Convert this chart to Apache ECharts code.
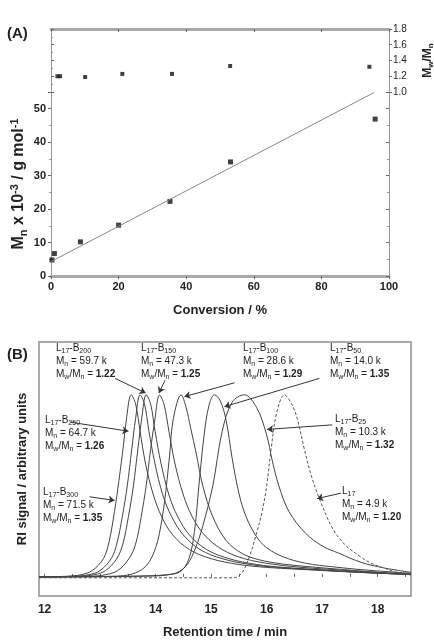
<!DOCTYPE html>
<html>
<head>
<meta charset="utf-8">
<script src="https://cdn.jsdelivr.net/npm/echarts@6/dist/echarts.min.js"></script>
<style>
html, body { margin: 0; padding: 0; background: #fff; }
#main { width: 434px; height: 642px; }
</style>
</head>
<body>
<div id="main"></div>
<script>
// panel A data
var conversion = [0.3, 1.0, 8.7, 20.0, 35.2, 53.1, 95.9];
var mnK = [4.8, 6.7, 10.2, 15.2, 22.3, 34.1, 46.9];
var dispConversion = [1.9, 2.7, 10.1, 21.1, 35.8, 53.0, 94.2];
var dispersity = [1.20, 1.20, 1.19, 1.23, 1.23, 1.33, 1.32];
var fitConversion = [0, 95.5];
var fitMn = [4.3, 54.8];

// panel B: RI traces [retention time, signal]
var curveB300 = [[11.9,0],[12.36,0.003],[12.66,0.012],[12.86,0.035],[13.06,0.1],[13.16,0.19],[13.26,0.36],[13.34,0.53],[13.42,0.72],[13.48,0.88],[13.56,1.0],[13.64,0.95],[13.72,0.8],[13.82,0.62],[13.96,0.45],[14.11,0.33],[14.31,0.23],[14.61,0.15],[15.0,0.1],[15.5,0.068],[16.0,0.052],[16.5,0.043],[17.0,0.035],[17.5,0.027],[18.0,0.02],[18.6,0.013]];
var curveB250 = [[11.9,0],[12.5,0.003],[12.8,0.012],[13.0,0.035],[13.2,0.1],[13.3,0.18],[13.4,0.33],[13.49,0.5],[13.57,0.7],[13.64,0.87],[13.72,1.0],[13.8,0.95],[13.88,0.8],[13.99,0.62],[14.13,0.45],[14.29,0.33],[14.5,0.23],[14.8,0.15],[15.2,0.1],[15.7,0.068],[16.2,0.052],[16.7,0.042],[17.2,0.033],[17.7,0.025],[18.2,0.018],[18.6,0.013]];
var curveB200 = [[11.9,0],[12.6,0.003],[12.9,0.012],[13.1,0.035],[13.3,0.1],[13.41,0.18],[13.51,0.33],[13.6,0.5],[13.68,0.7],[13.75,0.87],[13.83,1.0],[13.91,0.95],[13.99,0.8],[14.1,0.62],[14.24,0.45],[14.4,0.33],[14.61,0.23],[14.92,0.15],[15.32,0.1],[15.82,0.068],[16.3,0.052],[16.8,0.042],[17.3,0.032],[17.8,0.024],[18.3,0.017],[18.6,0.013]];
var curveB150 = [[11.9,0],[12.8,0.003],[13.1,0.012],[13.32,0.035],[13.52,0.1],[13.64,0.18],[13.74,0.33],[13.83,0.5],[13.91,0.7],[13.99,0.87],[14.07,1.0],[14.15,0.95],[14.24,0.8],[14.35,0.62],[14.5,0.45],[14.66,0.33],[14.88,0.23],[15.2,0.15],[15.6,0.1],[16.1,0.07],[16.6,0.053],[17.1,0.042],[17.6,0.032],[18.1,0.022],[18.6,0.015]];
var curveB100 = [[11.9,0],[13.2,0.003],[13.53,0.012],[13.75,0.04],[13.89,0.085],[14.0,0.16],[14.07,0.24],[14.16,0.41],[14.25,0.66],[14.32,0.87],[14.46,1.0],[14.55,0.93],[14.63,0.82],[14.73,0.68],[14.85,0.5],[15.03,0.33],[15.27,0.2],[15.55,0.13],[15.85,0.095],[16.3,0.07],[16.8,0.055],[17.3,0.042],[17.8,0.03],[18.3,0.02],[18.6,0.016]];
var curveB50 = [[11.9,0],[13.6,0.004],[14.2,0.012],[14.45,0.03],[14.6,0.1],[14.7,0.25],[14.78,0.5],[14.87,0.77],[14.96,0.94],[15.06,1.0],[15.16,0.97],[15.27,0.86],[15.38,0.65],[15.5,0.46],[15.63,0.33],[15.82,0.22],[16.0,0.16],[16.3,0.11],[16.7,0.075],[17.2,0.055],[17.7,0.04],[18.2,0.028],[18.6,0.02]];
var curveB25 = [[11.9,0],[13.8,0.004],[14.3,0.015],[14.55,0.06],[14.72,0.16],[14.85,0.28],[15.03,0.5],[15.2,0.8],[15.38,0.96],[15.6,1.0],[15.82,0.93],[16.0,0.78],[16.1,0.64],[16.22,0.5],[16.4,0.36],[16.7,0.24],[17.0,0.17],[17.3,0.13],[17.7,0.08],[18.1,0.05],[18.6,0.025]];
var curveL17 = [[11.9,-0.005],[15.4,-0.005],[15.55,0.02],[15.7,0.12],[15.8,0.22],[15.92,0.36],[16.0,0.5],[16.08,0.7],[16.18,0.9],[16.32,1.0],[16.45,0.95],[16.55,0.87],[16.68,0.7],[16.8,0.56],[16.95,0.43],[17.18,0.27],[17.4,0.18],[17.6,0.13],[17.85,0.08],[18.1,0.05],[18.4,0.02],[18.6,0.01]];

var timeTicks = [12, 13, 14, 15, 16, 17, 18];
var timeMinor = [12, 12.5, 13, 13.5, 14, 14.5, 15, 15.5, 16, 16.5, 17, 17.5, 18, 18.5];

var FONT = 'Arial, "Liberation Sans", sans-serif';
var TXT = '#222';

function zip(xs, ys) {
    return xs.map(function (x, i) { return [x, ys[i]]; });
}

var rich = {
    m: {fontSize: 10, fontFamily: FONT, fill: TXT, lineHeight: 13},
    b: {fontSize: 10, fontFamily: FONT, fontWeight: 'bold', fill: TXT, lineHeight: 13},
    s: {fontSize: 7, fontFamily: FONT, fill: TXT, verticalAlign: 'bottom'}
};

// label blocks for the traces
function block(x, y, sample, mn, pdi) {
    var head = sample ? '{m|L}{s|17}{m|-B}{s|' + sample + '}' : '{m|L}{s|17}';
    return {
        type: 'text', left: x, top: y, silent: true,
        style: {
            text: head + '\n{m|M}{s|n}{m| = ' + mn + ' k}\n{m|M}{s|w}{m|/M}{s|n}{m| = }{b|' + pdi + '}',
            rich: rich, fontSize: 10, fontFamily: FONT, fill: TXT
        }
    };
}

function ax(o) {
    var base = {
        type: 'value',
        splitLine: {show: false},
        nameMoveOverlap: false,
        axisLine: {show: true, onZero: false, lineStyle: {color: '#999', width: 1}},
        axisTick: {show: true, length: 3, lineStyle: {color: '#666'}},
        axisLabel: {show: false}
    };
    for (var k in o) base[k] = o[k];
    return base;
}

var gpcLine = function (data, dashed) {
    return {
        type: 'line', xAxisIndex: 3, yAxisIndex: 4, data: data,
        showSymbol: false, smooth: 0.35, silent: true,
        lineStyle: {color: dashed ? '#555' : '#444', width: 1, type: dashed ? [3, 2] : 'solid'}
    };
};

var arrows = [
    [[13.27, 1.09], [13.82, 1.01]],
    [[14.17, 1.08], [14.06, 1.01]],
    [[15.42, 1.066], [14.52, 0.99]],
    [[16.95, 1.09], [15.24, 0.935]],
    [[17.18, 0.835], [16.01, 0.81]],
    [[17.34, 0.46], [16.91, 0.43]],
    [[12.46, 0.85], [13.51, 0.80]],
    [[12.81, 0.44], [13.26, 0.42]]
];

var option = {
    backgroundColor: '#fff',
    animation: false,
    grid: [
        {left: 51, top: 29, width: 338, height: 63, outerBoundsMode: 'none'},
        {left: 51, top: 92, width: 338, height: 184, outerBoundsMode: 'none'},
        {left: 39, top: 342, width: 372, height: 254, outerBoundsMode: 'none',
            show: true, borderColor: '#aaa', borderWidth: 2}
    ],
    xAxis: [
        ax({gridIndex: 0, position: 'top', min: 0, max: 100, interval: 20,
            axisLine: {show: true, lineStyle: {color: '#aaa', width: 3}},
            axisTick: {show: true, inside: true, length: 3, lineStyle: {color: '#666'}},
            minorTick: {show: true, splitNumber: 2, length: 2}}),
        ax({gridIndex: 1, position: 'bottom', min: 0, max: 100, interval: 20,
            axisTick: {show: true, length: 3, lineStyle: {color: '#666'}},
            minorTick: {show: true, splitNumber: 2, length: 2},
            axisLabel: {show: true, fontSize: 11, fontWeight: 'bold', fontFamily: FONT, color: TXT, margin: 5},
            name: 'Conversion / %', nameLocation: 'middle', nameGap: 28,
            nameTextStyle: {fontSize: 13, fontWeight: 'bold', fontFamily: FONT, color: TXT}}),
        ax({gridIndex: 1, position: 'top', min: 0, max: 100, interval: 20,
            axisLine: {show: true, lineStyle: {color: '#aaa', width: 3}},
            axisTick: {show: true, inside: true, length: 3, lineStyle: {color: '#666'}},
            minorTick: {show: true, splitNumber: 2, length: 2}}),
        ax({gridIndex: 2, position: 'bottom', min: 11.9, max: 18.6,
            axisLine: {show: false},
            axisTick: {show: true, inside: true, length: 3, customValues: timeMinor, lineStyle: {color: '#666'}},
            axisLabel: {show: true, customValues: timeTicks, fontSize: 12, fontWeight: 'bold', fontFamily: FONT, color: TXT, margin: 8},
            name: 'Retention time / min', nameLocation: 'middle', nameGap: 30,
            nameTextStyle: {fontSize: 13, fontWeight: 'bold', fontFamily: FONT, color: TXT}})
    ],
    yAxis: [
        ax({gridIndex: 0, position: 'right', min: 1.0, max: 1.8, interval: 0.2,
            axisTick: {show: true, length: 3, lineStyle: {color: '#666'}},
            axisLabel: {show: true, fontSize: 10, fontFamily: FONT, color: TXT, margin: 4,
                formatter: function (v) { return v.toFixed(1); }},
            name: '{m|M}{s|w}{m|/M}{s|n}', nameLocation: 'middle', nameGap: 31,
            nameTextStyle: {fontSize: 12, fontWeight: 'bold', fontFamily: FONT, color: TXT,
                rich: {m: {fontSize: 12, fontWeight: 'bold', fontFamily: FONT, color: TXT, lineHeight: 15},
                       s: {fontSize: 8, fontWeight: 'bold', fontFamily: FONT, color: TXT, verticalAlign: 'bottom'}}}}),
        ax({gridIndex: 0, position: 'left', min: 1.0, max: 1.8, interval: 0.2,
            axisTick: {show: true, inside: true, length: 3, lineStyle: {color: '#666'}},
            minorTick: {show: true, splitNumber: 2, length: 2}}),
        ax({gridIndex: 1, position: 'left', min: 0, max: 55, interval: 10,
            axisTick: {show: true, length: 3, lineStyle: {color: '#666'}},
            minorTick: {show: true, splitNumber: 2, length: 2},
            axisLabel: {show: true, fontSize: 11, fontWeight: 'bold', fontFamily: FONT, color: TXT, margin: 5,
                formatter: function (v) { return v % 10 === 0 ? String(v) : ''; }},
            name: '{m|M}{s|n}{m| x 10}{p|-3}{m| / g mol}{p|-1}', nameLocation: 'middle', nameGap: 22,
            nameTextStyle: {fontSize: 16, fontWeight: 'bold', fontFamily: FONT, color: TXT,
                rich: {m: {fontSize: 16, fontWeight: 'bold', fontFamily: FONT, color: TXT, lineHeight: 20},
                       s: {fontSize: 11, fontWeight: 'bold', fontFamily: FONT, color: TXT, verticalAlign: 'bottom'},
                       p: {fontSize: 11, fontWeight: 'bold', fontFamily: FONT, color: TXT, verticalAlign: 'top'}}}}),
        ax({gridIndex: 1, position: 'right', min: 0, max: 55, interval: 10,
            axisTick: {show: true, inside: true, length: 3, lineStyle: {color: '#666'}},
            minorTick: {show: true, splitNumber: 2, length: 2}}),
        ax({gridIndex: 2, min: -0.105, max: 1.29, axisLine: {show: false}, axisTick: {show: false},
            name: 'RI signal / arbitrary units', nameLocation: 'middle', nameGap: 10,
            nameTextStyle: {fontSize: 13, fontWeight: 'bold', fontFamily: FONT, color: TXT}})
    ],
    series: [
        {type: 'scatter', xAxisIndex: 0, yAxisIndex: 0, data: zip(dispConversion, dispersity),
            symbol: 'rect', symbolSize: 4, itemStyle: {color: '#111'}, silent: true},
        {type: 'line', xAxisIndex: 1, yAxisIndex: 2, data: zip(fitConversion, fitMn),
            showSymbol: false, silent: true, lineStyle: {color: '#888', width: 1}},
        {type: 'scatter', xAxisIndex: 1, yAxisIndex: 2, data: zip(conversion, mnK),
            symbol: 'rect', symbolSize: 5, itemStyle: {color: '#111'}, silent: true},
        Object.assign(gpcLine(curveB300), {
            markLine: {
                silent: true, symbol: ['none', 'arrow'], symbolSize: 6, animation: false,
                label: {show: false},
                lineStyle: {color: '#333', width: 1, type: 'solid'},
                data: arrows.map(function (a) { return [{coord: a[0]}, {coord: a[1]}]; })
            }
        }),
        gpcLine(curveB250),
        gpcLine(curveB200),
        gpcLine(curveB150),
        gpcLine(curveB100),
        gpcLine(curveB50),
        gpcLine(curveB25),
        gpcLine(curveL17, true)
    ],
    graphic: [
        {type: 'text', left: 7, top: 26, style: {text: '(A)', fontSize: 15, fontWeight: 'bold', fontFamily: FONT, fill: TXT}},
        {type: 'text', left: 7, top: 347, style: {text: '(B)', fontSize: 15, fontWeight: 'bold', fontFamily: FONT, fill: TXT}},
        block(56, 343, '200', '59.7', '1.22'),
        block(141, 343, '150', '47.3', '1.25'),
        block(243, 343, '100', '28.6', '1.29'),
        block(330, 343, '50', '14.0', '1.35'),
        block(45, 415, '250', '64.7', '1.26'),
        block(43, 487, '300', '71.5', '1.35'),
        block(335, 414, '25', '10.3', '1.32'),
        block(342, 486, null, '4.9', '1.20')
    ]
};

var chart = echarts.init(document.getElementById('main'));
chart.setOption(option);
</script>
</body>
</html>
